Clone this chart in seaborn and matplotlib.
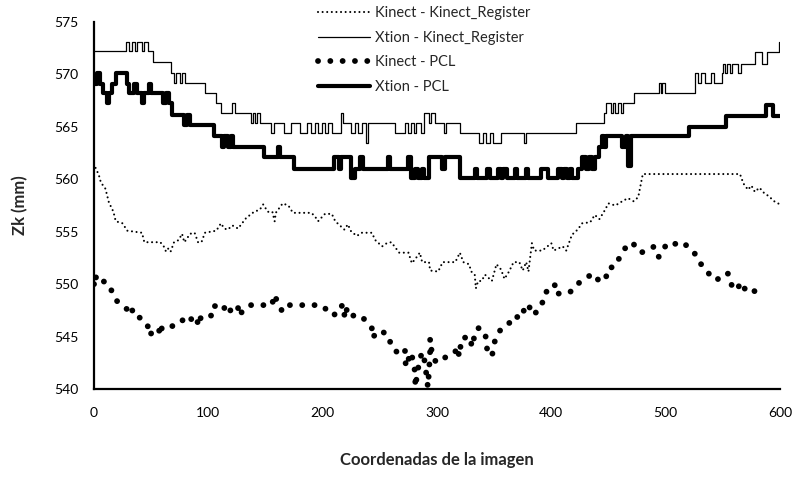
import matplotlib
matplotlib.use("Agg")
import matplotlib.pyplot as plt
import seaborn as sns
import pandas as pd

# ---------------- data ----------------
# Xtion - Kinect_Register (thin step line): breakpoints
xkr_x = [0, 28, 31, 33, 36, 38, 42, 44, 47, 52, 67, 70, 72, 75, 77, 80, 97, 107, 111,
         121, 123, 137, 139, 141, 143, 145, 155, 157, 166, 172, 180, 186, 190, 193, 196,
         199, 202, 205, 208, 216, 218, 225, 228, 231, 234, 238, 240, 263, 272, 275, 277,
         280, 282, 286, 289, 293, 295, 298, 306, 308, 320, 337, 340, 343, 346, 349, 356,
         376, 378, 422, 446, 448, 452, 454, 456, 458, 461, 463, 472, 494, 496, 497, 499,
         526, 528, 531, 534, 540, 542, 549, 550, 552, 554, 556, 558, 563, 566, 571, 578,
         584, 589, 599, 600]
xkr_y = [572.2, 573.1, 572.2, 573.1, 572.2, 573.1, 572.2, 573.1, 572.2, 571.2, 570.1,
         569.2, 570.1, 569.2, 570.1, 569.2, 568.2, 567.3, 566.3, 567.3, 566.3, 565.4,
         566.3, 565.4, 566.3, 565.4, 564.4, 565.4, 564.4, 565.4, 564.4, 565.4, 564.4,
         565.4, 564.4, 565.4, 564.4, 565.4, 564.4, 566.3, 565.4, 564.4, 565.4, 564.4,
         565.4, 563.5, 565.4, 564.4, 565.4, 564.4, 565.4, 564.4, 565.4, 564.4, 566.3,
         565.4, 566.3, 565.4, 564.4, 565.4, 564.4, 563.5, 564.4, 563.5, 564.4, 563.5,
         564.4, 563.5, 564.4, 565.4, 566.3, 567.3, 566.3, 567.3, 566.3, 567.3, 566.3,
         567.3, 568.2, 569.2, 568.2, 569.2, 568.2, 570.1, 569.2, 570.1, 569.2, 570.1,
         569.2, 570.1, 571.0, 570.1, 571.0, 570.1, 571.0, 570.1, 571.0, 571.0, 572.1,
         571.0, 572.1, 573.1, 573.1]

# Xtion - PCL (thick step line): breakpoints
xp_x = [0, 3, 5, 8, 11, 13, 16, 19, 29, 31, 35, 38, 42, 44, 48, 50, 60, 63, 66, 68, 79,
        81, 84, 105, 112, 114, 117, 120, 122, 149, 161, 163, 175, 210, 214, 216, 225, 228,
        233, 235, 257, 259, 275, 277, 281, 283, 287, 289, 293, 304, 307, 320, 333, 335,
        344, 346, 353, 356, 358, 361, 368, 370, 378, 380, 391, 397, 406, 409, 411, 414,
        416, 418, 423, 427, 430, 433, 436, 438, 442, 444, 446, 448, 462, 465, 467, 470,
        520, 553, 588, 594, 600]
xp_y = [569.1, 570.1, 569.1, 568.2, 567.3, 568.2, 569.1, 570.1, 569.1, 568.2, 569.1,
        568.2, 567.3, 568.2, 569.1, 568.2, 567.3, 568.2, 567.3, 566.1, 565.2, 566.1,
        565.2, 564.1, 563.1, 564.1, 563.1, 564.1, 563.1, 562.1, 563.1, 562.1, 561.0,
        562.1, 561.0, 562.1, 560.1, 561.0, 562.1, 561.0, 562.1, 561.0, 562.1, 560.1,
        561.0, 560.1, 561.0, 560.1, 562.1, 561.0, 562.1, 560.1, 561.0, 560.1, 561.0,
        560.1, 561.0, 560.1, 561.0, 560.1, 561.0, 560.1, 561.0, 560.1, 561.0, 560.1,
        561.0, 560.1, 561.0, 560.1, 561.0, 560.1, 561.0, 562.1, 561.0, 562.1, 561.0,
        562.1, 563.1, 564.1, 563.1, 564.1, 563.1, 564.1, 561.3, 564.1, 565.0, 566.0,
        567.1, 566.0, 566.0]

# Kinect - Kinect_Register (small dots)
kkr_x = [0, 2, 4, 6, 10, 13, 17, 19, 25, 29, 42, 44, 58, 61, 63, 65, 67, 70, 74, 77, 79,
         81, 84, 88, 91, 94, 97, 107, 111, 114, 117, 121, 126, 133, 140, 145, 148, 152,
         156, 158, 159, 165, 170, 174, 190, 193, 196, 202, 208, 211, 216, 219, 222, 225,
         230, 234, 243, 246, 252, 256, 260, 267, 275, 278, 281, 285, 287, 293, 294, 301,
         305, 316, 320, 323, 328, 330, 333, 334, 336, 339, 342, 348, 352, 356, 359, 363,
         367, 372, 375, 378, 380, 383, 385, 392, 400, 402, 410, 413, 418, 423, 427, 434,
         438, 442, 446, 450, 456, 462, 467, 472, 476, 480, 520, 540, 565, 568, 572, 575,
         578, 582, 586, 590, 595, 600]
kkr_y = [561.5, 560.9, 560.5, 559.7, 559.1, 557.8, 556.9, 556.0, 555.8, 555.1, 554.9,
         554.0, 554.0, 553.6, 553.1, 553.4, 553.1, 554.0, 554.2, 554.8, 554.0, 554.3,
         554.8, 554.9, 554.0, 554.0, 554.9, 555.1, 555.8, 555.3, 555.2, 555.6, 555.3,
         556.3, 556.9, 557.1, 557.6, 556.9, 556.9, 556.0, 556.8, 557.7, 557.5, 556.8,
         556.8, 556.5, 556.0, 556.7, 556.7, 556.0, 555.5, 555.2, 555.7, 555.0, 554.6,
         554.9, 554.9, 554.2, 553.6, 553.9, 554.0, 553.0, 553.0, 552.0, 552.4, 553.0,
         552.1, 552.1, 551.3, 551.2, 552.1, 552.1, 553.0, 552.1, 551.9, 551.2, 550.9,
         549.6, 550.3, 550.3, 550.9, 550.3, 551.9, 551.4, 550.5, 551.2, 552.1, 552.1,
         551.3, 552.1, 551.2, 553.9, 553.2, 553.2, 553.9, 553.2, 553.6, 553.2, 554.7,
         555.2, 555.8, 555.9, 556.6, 556.2, 556.9, 557.7, 557.5, 557.9, 558.2, 557.9,
         558.3, 560.5, 560.5, 560.5, 560.5, 559.6, 559.0, 559.4, 558.8, 559.2, 558.7,
         558.4, 557.9, 557.6]

# Kinect - PCL (big dots)
kp_x = [0, 1, 3, 6, 13, 16, 19, 24, 29, 33, 34, 38, 42, 43, 47, 48, 53, 57, 57, 60, 70,
        76, 80, 86, 90, 91, 94, 104, 105, 114, 114, 118, 126, 126, 136, 146, 156, 157,
        161, 164, 164, 170, 180, 189, 199, 205, 210, 213, 219, 219, 221, 221, 234, 238,
        243, 243, 251, 259, 259, 266, 272, 272, 273, 277, 280, 281, 281, 283, 285, 288,
        290, 292, 293, 294, 294, 296, 300, 307, 314, 319, 319, 322, 330, 330, 335, 339,
        343, 343, 348, 351, 354, 358, 365, 368, 373, 376, 381, 381, 387, 392, 393, 403,
        403, 413, 419, 424, 430, 437, 441, 447, 450, 455, 460, 465, 470, 474, 478, 484,
        490, 494, 498, 503, 510, 515, 520, 525, 530, 535, 540, 545, 550, 555, 558, 562,
        566, 570, 575, 580]
kp_y = [550.0, 550.9, 550.2, 550.4, 550.0, 549.2, 548.5, 548.0, 547.6, 548.0, 547.0,
        546.9, 546.7, 546.4, 546.0, 545.1, 545.6, 545.8, 545.1, 546.0, 546.0, 546.3,
        547.0, 546.6, 546.9, 546.0, 547.0, 547.0, 547.9, 548.0, 547.2, 547.4, 548.0,
        547.0, 548.0, 548.0, 548.0, 549.0, 548.3, 547.6, 547.4, 548.0, 548.0, 548.0,
        548.0, 547.4, 547.0, 547.8, 548.0, 547.0, 547.8, 547.0, 547.0, 546.4, 545.8,
        544.9, 545.6, 544.9, 544.2, 543.4, 543.8, 542.9, 542.1, 543.5, 542.4, 541.0,
        540.2, 541.6, 543.0, 543.5, 542.0, 540.2, 541.6, 543.7, 544.8, 543.0, 542.5,
        543.0, 543.3, 544.0, 543.1, 544.9, 544.9, 544.0, 545.8, 545.8, 544.9, 544.0,
        543.1, 544.8, 545.4, 546.0, 546.4, 547.0, 546.7, 547.5, 548.1, 547.2, 547.3,
        548.1, 549.0, 550.0, 549.1, 549.1, 549.4, 550.1, 550.6, 551.0, 550.4, 550.3,
        551.6, 551.6, 552.6, 553.5, 554.0, 553.6, 553.0, 553.2, 553.6, 552.6, 553.4,
        554.0, 553.8, 554.0, 553.5, 553.0, 552.0, 551.5, 550.6, 550.4, 551.0, 551.0,
        549.8, 549.4, 550.2, 549.4, 549.6, 549.1]

series_names = ["Kinect - Kinect_Register", "Xtion - Kinect_Register",
                "Kinect - PCL", "Xtion - PCL"]
x_ticks = [0, 100, 200, 300, 400, 500, 600]
y_ticks = [540, 545, 550, 555, 560, 565, 570, 575]

# ---------------- figure ----------------
sns.set_theme(style="white")
plt.rcParams["font.family"] = ["Lato", "DejaVu Sans"]

W, H = 795, 497
fig = plt.figure(figsize=(W / 100, H / 100), dpi=100)
L, R, T, B = 94, 780, 22, 389
ax = fig.add_axes([L / W, (H - B) / H, (R - L) / W, (B - T) / H])

sns.lineplot(x=kkr_x, y=kkr_y, ax=ax, color="black", linewidth=1.5,
             estimator=None, sort=False, label=series_names[0],
             linestyle=(0, (0.01, 2.2)), dash_capstyle="round")
sns.lineplot(x=xkr_x, y=xkr_y, ax=ax, color="black", linewidth=0.9,
             estimator=None, sort=False, label=series_names[1],
             drawstyle="steps-post")
sns.lineplot(x=kp_x, y=kp_y, ax=ax, color="black", linewidth=4.2,
             estimator=None, sort=False, label=series_names[2],
             linestyle=(0, (0.01, 2.1)), dash_capstyle="round")
sns.lineplot(x=xp_x, y=xp_y, ax=ax, color="black", linewidth=3.0,
             estimator=None, sort=False, label=series_names[3],
             drawstyle="steps-post")

ax.set_xlim(0, 600)
ax.set_ylim(540, 575)
ax.set_xticks(x_ticks)
ax.set_yticks(y_ticks)
ax.tick_params(axis="both", length=0, labelsize=10, colors="black")
ax.tick_params(axis="x", pad=13)
ax.tick_params(axis="y", pad=11)
for s in ["top", "right"]:
    ax.spines[s].set_visible(False)
for s in ["left", "bottom"]:
    ax.spines[s].set_color("black")
    ax.spines[s].set_linewidth(1.6)
ax.grid(False)

ax.set_xlabel("Coordenadas de la imagen", fontsize=12, fontweight="bold")
ax.set_ylabel("Zk (mm)", fontsize=12, fontweight="bold")
ax.xaxis.label.set_va("center")
ax.yaxis.label.set_va("center")
ax.xaxis.set_label_coords(0.5, -0.193)
ax.yaxis.set_label_coords(-0.107, 0.5)

leg = ax.legend(loc="upper left", bbox_to_anchor=(312 / W, 1.0),
                bbox_transform=fig.transFigure, frameon=False, fontsize=10.5,
                handlelength=3.6, handletextpad=0.3, labelspacing=0.74,
                borderaxespad=0.2, borderpad=0.2)

fig.savefig("out.png", dpi=100)
